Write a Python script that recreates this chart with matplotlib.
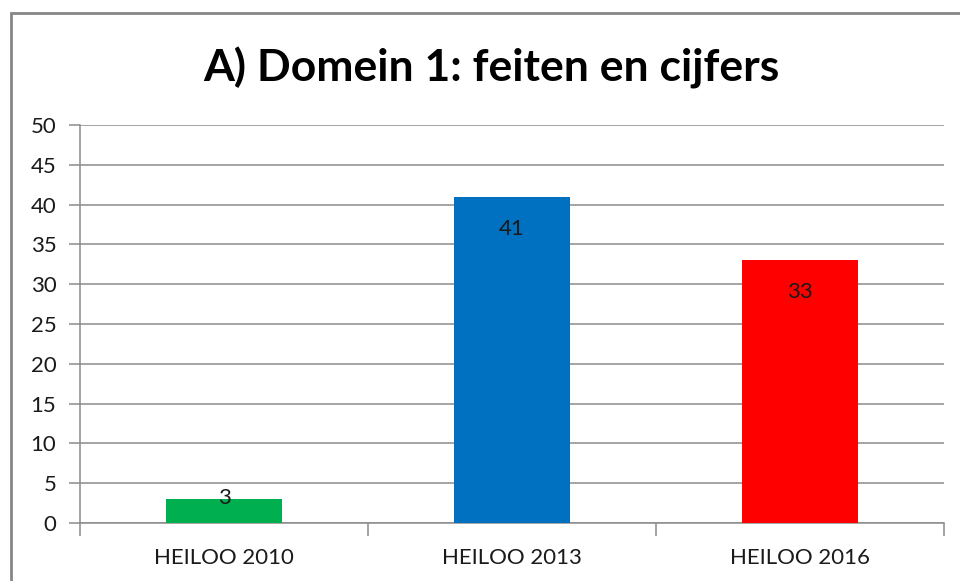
import matplotlib
matplotlib.use("Agg")
import matplotlib.pyplot as plt
from matplotlib.patches import Rectangle

categories = ["HEILOO 2010", "HEILOO 2013", "HEILOO 2016"]
values = [3, 41, 33]
colors = ["#00B050", "#0070C0", "#FF0000"]
yticks = list(range(0, 51, 5))
title = "A) Domein 1: feiten en cijfers"

plt.rcParams['font.family'] = ['Lato', 'DejaVu Sans']

W, H = 960, 581
fig = plt.figure(figsize=(W / 100, H / 100), dpi=100)
fig.patch.set_facecolor("white")

# outer chart border (extends past right and bottom edges)
fig.add_artist(Rectangle((11 / W, -0.1), 1.2, 1 - 13 / H + 0.1,
                         transform=fig.transFigure, fill=False,
                         edgecolor="#868686", linewidth=2.0))

ax = fig.add_axes([80 / W, 1 - 523 / H, 864 / W, 398 / H])
x = list(range(len(categories)))
ax.bar(x, values, width=0.4, color=colors, zorder=3)
ax.set_xlim(-0.5, len(categories) - 0.5)
ax.set_ylim(0, 50)
ax.set_yticks(yticks)
ax.set_yticklabels([str(t) for t in yticks], fontsize=16, color="#1a1a1a")
ax.yaxis.grid(True, color="#8C8C8C", linewidth=1.1, zorder=0)
ax.set_axisbelow(True)
for s in ["top", "right"]:
    ax.spines[s].set_visible(False)
ax.spines["left"].set_color("#8C8C8C")
ax.spines["bottom"].set_color("#8C8C8C")
ax.spines["left"].set_linewidth(1.1)
ax.spines["bottom"].set_linewidth(1.1)
ax.tick_params(axis="y", length=8, width=1.1, color="#8C8C8C", pad=9)
ax.set_xticks(x)
ax.set_xticklabels(categories, fontsize=16, color="#1a1a1a")
ax.tick_params(axis="x", length=0, pad=18)
# category boundary tick marks
ax.set_xticks([i - 0.5 for i in range(len(categories) + 1)], minor=True)
ax.tick_params(axis="x", which="minor", length=9, width=1.1, color="#8C8C8C")

for xi, v in zip(x, values):
    px_h = v / 50 * 398
    off = -23 if px_h > 40 else 1
    ax.annotate(str(v), (xi, v), xytext=(0, off), textcoords="offset points",
                ha="center", va="center", fontsize=16, color="#1a1a1a", zorder=4)

fig.text(491 / W, 1 - 68 / H, title, ha="center", va="center",
         fontsize=32, fontweight="bold", color="black")

fig.savefig("out.png", dpi=100)
